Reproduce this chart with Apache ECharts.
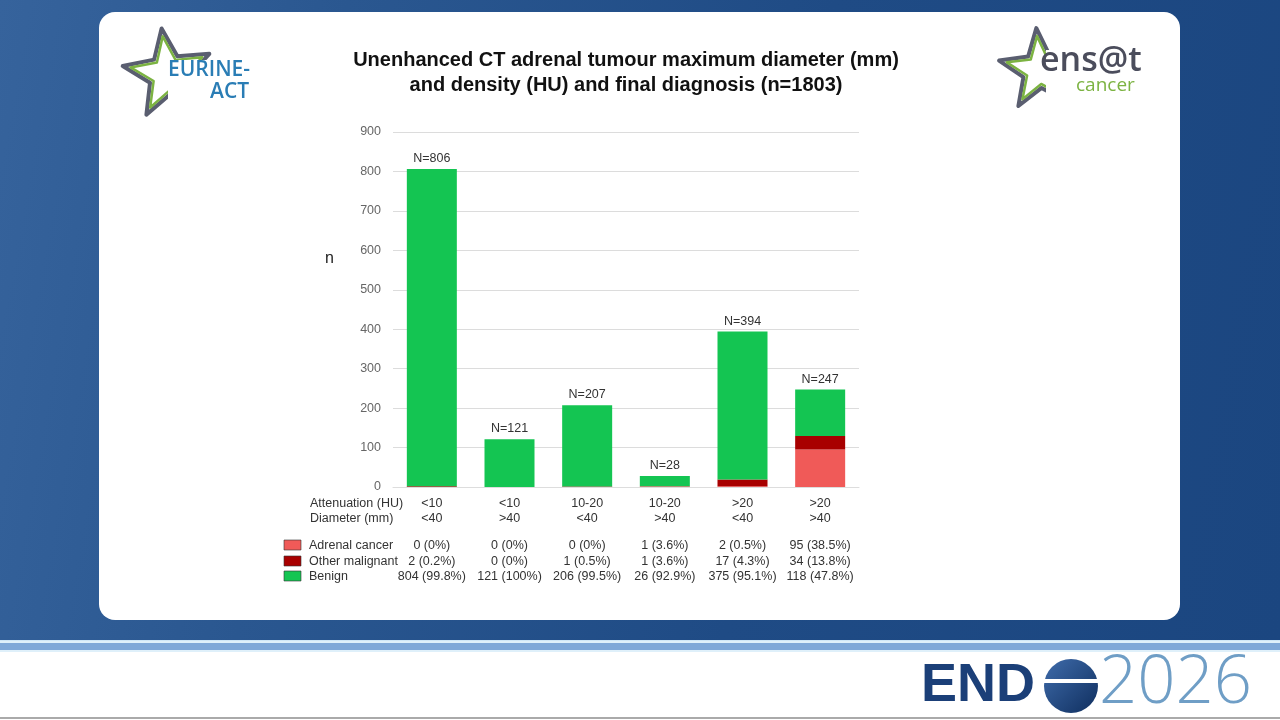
<!DOCTYPE html>
<html>
<head>
<meta charset="utf-8">
<title>Unenhanced CT adrenal tumour diameter and density</title>
<script src="https://cdn.jsdelivr.net/npm/echarts@6/dist/echarts.min.js"></script>
<style>
  html, body { margin: 0; padding: 0; }
  body {
    width: 1280px; height: 720px; position: relative; overflow: hidden;
    font-family: "Liberation Sans", Arial, sans-serif;
    background: #fff;
  }
  #bg {
    position: absolute; left: 0; top: 0; width: 1280px; height: 640px;
    background: linear-gradient(100deg, #36639c 0%, #2a5790 25%, #1f4b85 60%, #1b4680 100%);
  }
  #stripe {
    position: absolute; left: 0; top: 640px; width: 1280px; height: 11px;
    background: #dff0fa; border-top: 1px solid #cfe6f6;
  }
  #stripe div { margin-top: 2px; height: 7px; background: #7fa8d8; }
  #footline { position: absolute; left: 0; top: 717px; width: 1280px; height: 2px; background: #aaa; }
  #card {
    position: absolute; left: 99px; top: 12px; width: 1081px; height: 608px;
    background: #fff; border-radius: 16px;
  }
  #main { position: absolute; left: 0; top: 0; width: 1280px; height: 720px; }
</style>
</head>
<body>
<div id="bg"></div>
<div id="stripe"><div></div></div>
<div id="footline"></div>
<div id="card"></div>
<div id="main"></div>
<script>
// groups: attenuation (HU) / diameter (mm)
const attenuation = ['<10', '<10', '10-20', '10-20', '>20', '>20'];
const diameter = ['<40', '>40', '<40', '>40', '<40', '>40'];

// counts per diagnosis
const adrenalCancer = [0, 0, 0, 1, 2, 95];
const otherMalignant = [2, 0, 1, 1, 17, 34];
const benign = [804, 121, 206, 26, 375, 118];

// percentages as printed in the table
const adrenalPct = ['0%', '0%', '0%', '3.6%', '0.5%', '38.5%'];
const otherPct = ['0.2%', '0%', '0.5%', '3.6%', '4.3%', '13.8%'];
const benignPct = ['99.8%', '100%', '99.5%', '92.9%', '95.1%', '47.8%'];

const yTicks = [0, 900, 100]; // min, max, interval

const colors = { adrenal: '#f05a58', other: '#a80000', benign: '#14c552' };

const totals = benign.map((v, i) => v + adrenalCancer[i] + otherMalignant[i]);

let chart = echarts.init(document.getElementById('main'), null, { renderer: 'canvas' });

function starPoints(cx, cy, r1, r2, rot) {
    let pts = [];
    for (let i = 0; i < 10; i++) {
        let r = i % 2 === 0 ? r1 : r2;
        let a = (rot - 90 + i * 36) * Math.PI / 180;
        pts.push([cx + r * Math.cos(a), cy + r * Math.sin(a)]);
    }
    return pts;
}

const font = '"Liberation Sans", Arial, sans-serif';

let graphic = [
    // title
    {
        type: 'text', x: 626, y: 48,
        style: {
            text: 'Unenhanced CT adrenal tumour maximum diameter (mm)\nand density (HU) and final diagnosis (n=1803)',
            font: 'bold 20px ' + font, fill: '#111', align: 'center', lineHeight: 25
        }
    },
    // y axis name
    { type: 'text', x: 325, y: 251, style: { text: 'n', font: '16px ' + font, fill: '#222' } },
    // table row headers
    { type: 'text', x: 310, y: 497, style: { text: 'Attenuation (HU)', font: '12.5px ' + font, fill: '#333' } },
    { type: 'text', x: 310, y: 512, style: { text: 'Diameter (mm)', font: '12.5px ' + font, fill: '#333' } },
    // legend rows
    { type: 'rect', shape: { x: 284, y: 540, width: 17, height: 10 }, style: { fill: colors.adrenal, stroke: '#333', lineWidth: 0.6 } },
    { type: 'rect', shape: { x: 284, y: 556, width: 17, height: 10 }, style: { fill: colors.other, stroke: '#333', lineWidth: 0.6 } },
    { type: 'rect', shape: { x: 284, y: 571, width: 17, height: 10 }, style: { fill: colors.benign, stroke: '#333', lineWidth: 0.6 } },
    { type: 'text', x: 309, y: 539, style: { text: 'Adrenal cancer', font: '12.5px ' + font, fill: '#333' } },
    { type: 'text', x: 309, y: 555, style: { text: 'Other malignant', font: '12.5px ' + font, fill: '#333' } },
    { type: 'text', x: 309, y: 570, style: { text: 'Benign', font: '12.5px ' + font, fill: '#333' } },

    // EURINE-ACT logo
    { type: 'polygon', shape: { points: starPoints(168, 74, 46, 20, -8) }, style: { fill: 'none', stroke: '#5a5e70', lineWidth: 4, lineJoin: 'round' } },
    { type: 'polygon', shape: { points: starPoints(168, 74, 38, 16, -8) }, style: { fill: 'none', stroke: '#7cb342', lineWidth: 2.5, lineJoin: 'round' } },
    { type: 'rect', shape: { x: 168, y: 60, width: 92, height: 56 }, style: { fill: '#fff' } },
    { type: 'text', x: 168, y: 60, style: { text: 'EURINE-', font: '600 21px "Open Sans", ' + font, fill: '#2a7db5' } },
    { type: 'text', x: 210, y: 82, style: { text: 'ACT', font: '600 21px "Open Sans", ' + font, fill: '#2a7db5' } },

    // ensat cancer logo
    { type: 'polygon', shape: { points: starPoints(1040, 70, 42, 18, -5) }, style: { fill: 'none', stroke: '#5a5e70', lineWidth: 4, lineJoin: 'round' } },
    { type: 'polygon', shape: { points: starPoints(1040, 70, 34, 14, -5) }, style: { fill: 'none', stroke: '#7cb342', lineWidth: 2.5, lineJoin: 'round' } },
    { type: 'rect', shape: { x: 1046, y: 50, width: 100, height: 62 }, style: { fill: '#fff' } },
    { type: 'text', x: 1040, y: 44, style: { text: 'ens@t', font: '600 34px "Open Sans", ' + font, fill: '#4b4d5c' } },
    { type: 'text', x: 1076, y: 76, style: { text: 'cancer', font: '19px "Open Sans", ' + font, fill: '#7cb342' } },

    // ENDO2026 footer
    { type: 'text', x: 921, y: 659, style: { text: 'END', font: '900 54px "Liberation Sans", Arial, sans-serif', fill: '#1b3f78' } },
    { type: 'circle', shape: { cx: 1071, cy: 686, r: 27 }, style: { fill: new echarts.graphic.LinearGradient(0, 0, 1, 1, [{ offset: 0, color: '#3f6cab' }, { offset: 1, color: '#0f2e5e' }]) } },
    { type: 'rect', shape: { x: 1042, y: 679, width: 58, height: 4 }, style: { fill: '#fff' } },
    { type: 'text', x: 1099, y: 650, style: { text: '2026', font: '300 67px "Open Sans", Lato, sans-serif', fill: '#6f9ec6' } }
];

function tableLabel(value, i) {
    return '{h|' + attenuation[i] + '}\n{h|' + diameter[i] + '}\n{s| }\n' +
        '{r|' + adrenalCancer[i] + ' (' + adrenalPct[i] + ')}\n' +
        '{r|' + otherMalignant[i] + ' (' + otherPct[i] + ')}\n' +
        '{r|' + benign[i] + ' (' + benignPct[i] + ')}';
}

let option = {
    backgroundColor: 'transparent',
    animation: false,
    textStyle: { fontFamily: font },
    grid: { left: 393, right: 421, top: 132, bottom: 233, containLabel: false },
    xAxis: {
        type: 'category',
        data: attenuation.map((a, i) => i),
        axisLine: { show: true, lineStyle: { color: '#ddd' } },
        axisTick: { show: false },
        axisLabel: {
            interval: 0,
            margin: 9,
            formatter: tableLabel,
            rich: {
                h: { fontSize: 12.5, color: '#333', lineHeight: 15, fontFamily: font },
                s: { fontSize: 6, lineHeight: 12 },
                r: { fontSize: 12.5, color: '#333', lineHeight: 15.5, fontFamily: font }
            }
        }
    },
    yAxis: {
        type: 'value',
        min: yTicks[0], max: yTicks[1], interval: yTicks[2],
        axisLine: { show: false },
        axisTick: { show: false },
        axisLabel: { color: '#666', fontSize: 12.5, margin: 12 },
        splitLine: { lineStyle: { color: '#dcdcdc' } }
    },
    series: [
        {
            name: 'Adrenal cancer', type: 'bar', stack: 'dx', data: adrenalCancer,
            barWidth: 50, itemStyle: { color: colors.adrenal }
        },
        {
            name: 'Other malignant', type: 'bar', stack: 'dx', data: otherMalignant,
            itemStyle: { color: colors.other }
        },
        {
            name: 'Benign', type: 'bar', stack: 'dx', data: benign,
            itemStyle: { color: colors.benign },
            label: {
                show: true, position: 'top', distance: 4,
                color: '#333', fontSize: 12.5,
                formatter: p => 'N=' + totals[p.dataIndex]
            }
        }
    ],
    graphic: graphic
};

chart.setOption(option);
</script>
</body>
</html>
